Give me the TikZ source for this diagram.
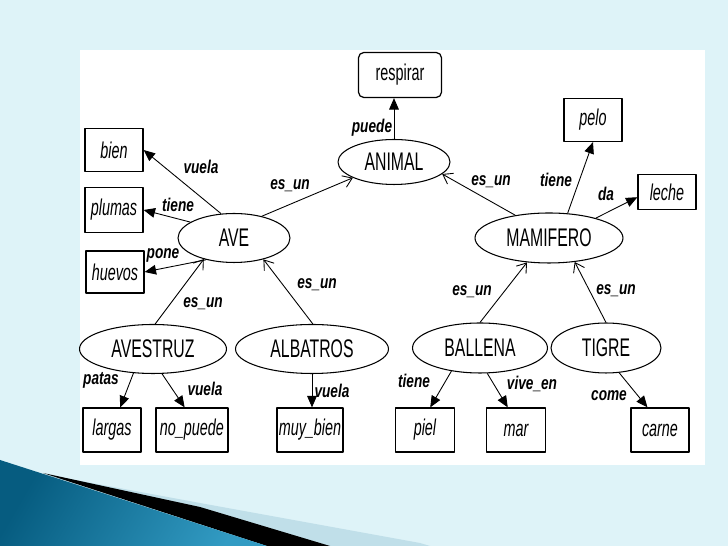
\documentclass[tikz,border=0pt]{standalone}
\usepackage{fontspec}
\setmainfont{Liberation Sans}
\newfontfamily\conceptfont[FakeStretch=0.62]{Liberation Sans}
\newfontfamily\valorfont[FakeStretch=0.63]{Liberation Sans}
\newfontfamily\relfont[FakeStretch=0.74]{Liberation Sans}
\usetikzlibrary{shapes.geometric,arrows.meta}
\definecolor{fondo}{RGB}{222,243,248}
\definecolor{banda}{RGB}{192,223,233}
\definecolor{azulosc}{RGB}{6,92,128}
\definecolor{azulcla}{RGB}{50,155,195}

\begin{document}
\begin{tikzpicture}[
        x = 0.02cm, y = -0.02cm,
        line join=round,
        concepto/.style = {ellipse, draw, line width=0.6pt, inner sep=0pt, minimum height=0.98cm, minimum width=#1, font=\conceptfont\fontsize{14.5}{16}\selectfont},
        concepto/.default = 2.24cm,
        valor/.style = {rectangle, draw, line width=0.7pt, inner sep=0pt, minimum height=0.88cm, minimum width=#1, font=\valorfont\itshape\fontsize{13}{15}\selectfont},
        valor/.default = 1.16cm,
        esun/.style = {-{Straight Barb[length=5pt,width=7pt]}, line width=0.5pt},
        atrib/.style = {-{Triangle[length=6.5pt,width=5.5pt]}, line width=0.5pt},
        etiq/.style = {font=\relfont\bfseries\itshape\fontsize{10.5}{12}\selectfont, inner sep=0pt}
    ]
        \useasboundingbox (0,0) rectangle (728,546);
        \fill[fondo] (0,0) rectangle (728,546);
        \fill[white] (80,50) rectangle (705,465);

        \fill[banda] (43,474) -- (200,503) -- (420,543) -- (430,546) -- (267,546) -- cycle;
        \fill[black] (43,473) -- (200,507) -- (330,546) -- (267,546) -- cycle;
        \shade[left color=azulosc, right color=azulcla, shading angle=60] (0,460) -- (267,546) -- (0,546) -- cycle;

        \node[valor=1.66cm, rounded corners=3pt, minimum height=0.9cm, font=\valorfont\fontsize{13}{15}\selectfont] (respirar) at (400,75) {respirar};
        \node[concepto, minimum height=0.9cm] (animal) at (394,162) {ANIMAL};
        \node[concepto] (ave) at (234,238) {AVE};
        \node[concepto=2.96cm, minimum height=1cm] (mamifero) at (549,238) {MAMIFERO};
        \node[concepto=2.94cm] (avestruz) at (153,349) {AVESTRUZ};
        \node[concepto=3.06cm] (albatros) at (312,349) {ALBATROS};
        \node[concepto=2.7cm, minimum height=1cm] (ballena) at (480,348) {BALLENA};
        \node[concepto=2.2cm, minimum height=1cm] (tigre) at (606,348) {TIGRE};

        \node[valor, minimum height=0.86cm] (bien) at (114,150) {bien};
        \node[valor, minimum height=0.9cm] (plumas) at (114,210) {plumas};
        \node[valor, minimum height=0.84cm] (huevos) at (115,272) {huevos};
        \node[valor] (largas) at (112,430) {largas};
        \node[valor=1.44cm] (nopuede) at (192,430) {no\_puede};
        \node[valor=1.32cm] (muybien) at (310,430) {muy\_bien};
        \node[valor, minimum height=0.86cm] (pelo) at (593,120) {pelo};
        \node[valor, minimum height=0.7cm] (leche) at (667,192) {leche};
        \node[valor=1.18cm] (piel) at (425,430) {piel};
        \node[valor=1.18cm] (mar) at (516,430) {mar};
        \node[valor] (carne) at (660,430) {carne};

        \draw[atrib] (animal.north) -- (animal.north |- respirar.south) node[etiq] at (372,128) {puede};
        \draw[esun] (ave.38) -- (animal.201) node[etiq] at (290,186) {es\_un};
        \draw[esun] (mamifero.146) -- (animal.346) node[etiq] at (491,182) {es\_un};

        \draw[atrib] (ave.118) -- (bien.east) node[etiq] at (201,167) {vuela};
        \draw[atrib] (ave.160) -- (plumas.east) node[etiq] at (178,205) {tiene};
        \draw[atrib] (ave.218) -- (huevos.east) node[etiq] at (163,255) {pone};
        \draw[esun] (avestruz.85) -- (ave.215) node[etiq] at (203,304) {es\_un};
        \draw[esun] (albatros.88) -- (ave.324) node[etiq] at (317,285) {es\_un};

        \draw[atrib] (avestruz.231) -- (largas.70) node[etiq] at (101,380) {patas};
        \draw[atrib] (avestruz.290) -- (nopuede.108) node[etiq] at (205,389) {vuela};
        \draw[atrib] (albatros.south) -- (albatros.south |- muybien.north) node[etiq] at (332,391) {vuela};

        \draw[atrib] (mamifero.53) -- (pelo.south) node[etiq] at (556,180) {tiene};
        \draw[atrib] (mamifero.23) -- (leche.190) node[etiq] at (606,194) {da};
        \draw[esun] (ballena.north) -- (mamifero.228) node[etiq] at (472,292) {es\_un};
        \draw[esun] (tigre.north) -- (mamifero.317) node[etiq] at (616,291) {es\_un};

        \draw[atrib] (ballena.219) -- (piel.77) node[etiq] at (414,381) {tiene};
        \draw[atrib] (ballena.286) -- (mar.110) node[etiq] at (532,384) {vive\_en};
        \draw[atrib] (tigre.298) -- (carne.119) node[etiq] at (609,396) {come};

    \end{tikzpicture}
\end{document}
